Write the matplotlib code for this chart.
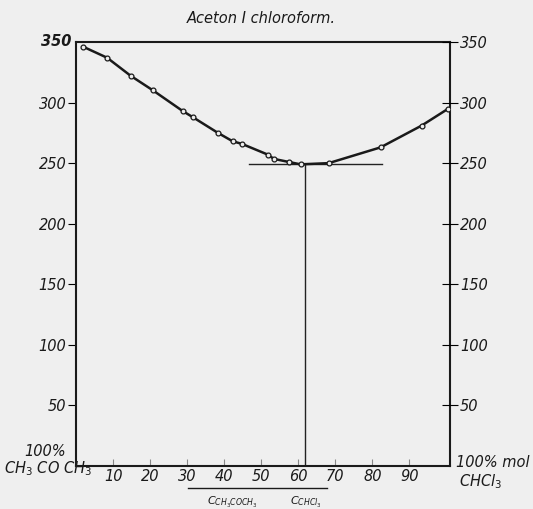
import matplotlib.pyplot as plt

x_pts = [2.0, 8.4, 14.8, 20.8, 28.8, 31.5, 38.3, 42.3, 44.7, 51.8, 53.4, 57.4, 60.6, 68.2, 82.2, 93.3, 100.5]
y_pts = [346, 337, 322, 310, 293, 288, 275, 268, 266, 257, 253.5, 251, 249, 250, 263, 281, 295]

x_ticks = [10, 20, 30, 40, 50, 60, 70, 80, 90]
y_ticks = [50, 100, 150, 200, 250, 300, 350]

x_min = 61.7      # composition at the minimum
y_min = 249
tangent = [46.6, 82.7]

bg = '#efefef'
fig = plt.figure(figsize=(5.33, 5.09), dpi=100, facecolor=bg)
ax = fig.add_axes([0.1426, 0.0845, 0.702, 0.833], facecolor=bg)

ax.plot(x_pts, y_pts, color='#1a1a1a', lw=1.8, zorder=3, solid_joinstyle='round')
ax.plot(x_pts, y_pts, 'o', ms=3.5, mfc=bg, mec='#1a1a1a', mew=0.9, zorder=4)
ax.plot(tangent, [y_min, y_min], color='#222222', lw=1.0)
ax.plot([x_min, x_min], [0, y_min], color='#222222', lw=1.0)

ax.set_xlim(0, 101)
ax.set_ylim(0, 350)
for s in ax.spines.values():
    s.set_linewidth(1.5)
    s.set_color('#1a1a1a')

tf = dict(style='italic', size=10.5, color='#1a1a1a')
ax.set_xticks(x_ticks)
ax.set_xticklabels([str(v) for v in x_ticks], **tf)
ax.tick_params(axis='x', direction='in', length=5, width=0.8, color='#888888', pad=2)

ax.set_yticks(y_ticks[:-1])
ax.set_yticklabels([str(v) for v in y_ticks[:-1]], **tf)
ax.tick_params(axis='y', direction='out', length=6, width=0.8, pad=1)

ax2 = ax.twinx()
ax2.set_ylim(0, 350)
ax2.set_yticks(y_ticks)
ax2.set_yticklabels([str(v) for v in y_ticks], **tf)
ax2.tick_params(axis='y', direction='inout', length=12, width=0.8, pad=1)
for s in ax2.spines.values():
    s.set_visible(False)

fig.text(0.1426 - 0.008, 0.9175, '350', ha='right', va='center', style='italic',
         weight='bold', size=10.5, color='#1a1a1a')

fig.text(0.49, 0.963, 'Aceton I chloroform.', ha='center', va='center', **tf)

fig.text(0.085, 0.113, '100%', ha='center', va='center', **tf)
fig.text(0.09, 0.080, r'CH$_3$ CO CH$_3$', ha='center', va='center', **tf)
fig.text(0.855, 0.092, '100% mol', ha='left', va='center', **tf)
fig.text(0.862, 0.053, r'CHCl$_3$', ha='left', va='center', **tf)

fig.lines.append(plt.Line2D([188 / 533, 327 / 533], [1 - 488 / 509, 1 - 488 / 509],
                            transform=fig.transFigure, color='#1a1a1a', lw=1.0))
fig.text(232 / 533, 1 - 502 / 509, r'$C_{CH_3COCH_3}$', ha='center', va='center',
         size=8, color='#1a1a1a')
fig.text(306 / 533, 1 - 502 / 509, r'$C_{CHCl_3}$', ha='center', va='center',
         size=8, color='#1a1a1a')

fig.savefig('out.png', dpi=100, facecolor=bg)
